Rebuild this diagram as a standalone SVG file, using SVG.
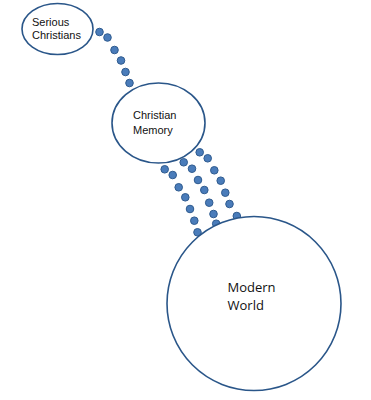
<svg xmlns="http://www.w3.org/2000/svg" width="371" height="400" viewBox="0 0 371 400">
<style>
.node{fill:#fff;stroke:#2a5689;stroke-width:1.6}
.lbl{font-family:"Liberation Sans",Arial,sans-serif;font-size:11px;fill:#111}
.lbl2{font-family:"Open Sans","DejaVu Sans",sans-serif;font-size:13px;fill:#111}
.dot{fill:#4a7cba;stroke:#2f5b8f;stroke-width:1}
</style>
<rect width="371" height="400" fill="#fff"/>
<g id="connectors">
<g id="chain1">
<circle class="dot" cx="99.5" cy="32" r="3.8"/>
<circle class="dot" cx="107.5" cy="37.5" r="3.8"/>
<circle class="dot" cx="114.5" cy="50" r="3.8"/>
<circle class="dot" cx="121" cy="60.5" r="3.8"/>
<circle class="dot" cx="125.5" cy="72" r="3.8"/>
<circle class="dot" cx="129.5" cy="83" r="3.8"/>
</g>
<g id="chain2">
<circle class="dot" cx="164.7" cy="169.3" r="3.8"/>
<circle class="dot" cx="172.7" cy="175" r="3.8"/>
<circle class="dot" cx="178.7" cy="187.3" r="3.8"/>
<circle class="dot" cx="185.3" cy="197.3" r="3.8"/>
<circle class="dot" cx="190" cy="209" r="3.8"/>
<circle class="dot" cx="194.3" cy="220.7" r="3.8"/>
<circle class="dot" cx="197.5" cy="232.3" r="3.8"/>
</g>
<g id="chain3">
<circle class="dot" cx="183.7" cy="162.3" r="3.8"/>
<circle class="dot" cx="192" cy="168.7" r="3.8"/>
<circle class="dot" cx="198" cy="180" r="3.8"/>
<circle class="dot" cx="204.3" cy="190" r="3.8"/>
<circle class="dot" cx="209.2" cy="202.7" r="3.8"/>
<circle class="dot" cx="213.5" cy="214" r="3.8"/>
<circle class="dot" cx="216.2" cy="223.7" r="3.8"/>
</g>
<g id="chain4">
<circle class="dot" cx="199.7" cy="152.3" r="3.8"/>
<circle class="dot" cx="207.7" cy="158.3" r="3.8"/>
<circle class="dot" cx="214.3" cy="170.3" r="3.8"/>
<circle class="dot" cx="220.7" cy="180.7" r="3.8"/>
<circle class="dot" cx="225.3" cy="192.7" r="3.8"/>
<circle class="dot" cx="229.5" cy="204" r="3.8"/>
<circle class="dot" cx="236.8" cy="216" r="3.8"/>
</g>
</g>
<g id="serious-christians">
<ellipse class="node" cx="57.5" cy="29" rx="35.5" ry="25.5"/>
<text class="lbl" x="32" y="26">Serious</text>
<text class="lbl" x="32" y="39">Christians</text>
</g>
<g id="christian-memory">
<ellipse class="node" cx="158.5" cy="123" rx="46.5" ry="40"/>
<text class="lbl" x="133" y="119">Christian</text>
<text class="lbl" x="133" y="134">Memory</text>
</g>
<g id="modern-world">
<circle class="node" cx="254" cy="303.5" r="87"/>
<text class="lbl2" x="227.5" y="292">Modern</text>
<text class="lbl2" x="227.5" y="310">World</text>
</g>
</svg>
